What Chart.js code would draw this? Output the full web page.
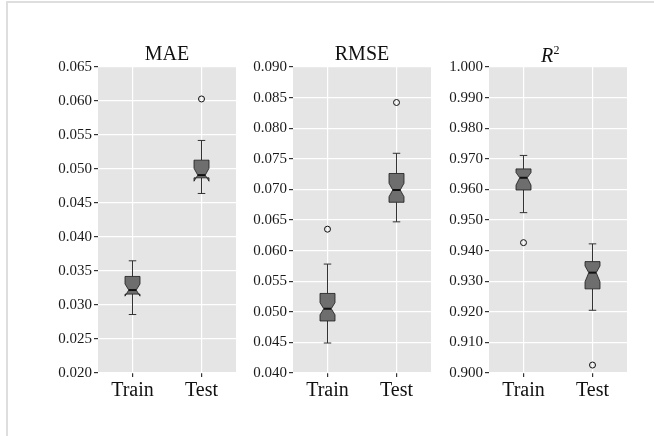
<!DOCTYPE html>
<html><head><meta charset="utf-8">
<script src="https://cdn.jsdelivr.net/npm/chart.js@4"></script>
<style>
html,body{margin:0;padding:0;background:#fff;}
#wrap{position:relative;width:654px;height:436px;overflow:hidden;background:#fff;}
#frame{position:absolute;left:6px;top:1px;width:700px;height:500px;border-top:2px solid #dedede;border-left:2px solid #dedede;}
.pc{position:absolute;top:0;width:202px;height:436px;}
</style></head><body>
<div id="wrap"><div id="frame"></div>
<div class="pc" style="left:38px"><canvas id="c1" width="202" height="436"></canvas></div>
<div class="pc" style="left:233px"><canvas id="c2" width="202" height="436"></canvas></div>
<div class="pc" style="left:429px"><canvas id="c3" width="202" height="436"></canvas></div>
</div>
<script>
const categories = ['Train', 'Test'];

// MAE
const maeLo = [0.0286, 0.0464];
const maeQ1 = [0.0316, 0.0487];
const maeNotchLo = [0.0313, 0.0482];
const maeMed = [0.0322, 0.0491];
const maeNotchHi = [0.0331, 0.0501];
const maeQ3 = [0.0342, 0.0513];
const maeHi = [0.0365, 0.0542];
const maeOutliers = [{x: 'Test', y: 0.0603}];
const maeTicks = {min: 0.020, max: 0.065, step: 0.005};

// RMSE
const rmseLo = [0.0449, 0.0647];
const rmseQ1 = [0.0485, 0.0679];
const rmseNotchLo = [0.0495, 0.0688];
const rmseMed = [0.0505, 0.0699];
const rmseNotchHi = [0.0515, 0.0710];
const rmseQ3 = [0.0530, 0.0726];
const rmseHi = [0.0578, 0.0759];
const rmseOutliers = [{x: 'Train', y: 0.0635}, {x: 'Test', y: 0.0842}];
const rmseTicks = {min: 0.040, max: 0.090, step: 0.005};

// R2
const r2Lo = [0.9524, 0.9205];
const r2Q1 = [0.9598, 0.9275];
const r2NotchLo = [0.9614, 0.9298];
const r2Med = [0.9638, 0.9328];
const r2NotchHi = [0.9655, 0.9350];
const r2Q3 = [0.9667, 0.9364];
const r2Hi = [0.9711, 0.9422];
const r2Outliers = [{x: 'Train', y: 0.9426}, {x: 'Test', y: 0.9026}];
const r2Ticks = {min: 0.900, max: 1.000, step: 0.010};

const r2TitleBase = 'R';
const r2TitleSup = '2';

const SERIF = "'Liberation Serif', 'DejaVu Serif', serif";

const notchBox = {
  id: 'notchBox',
  beforeDraw(chart) {
    const {ctx, chartArea: a} = chart;
    ctx.save();
    ctx.fillStyle = '#e5e5e5';
    ctx.fillRect(a.left, a.top, a.width, a.height);
    ctx.restore();
  },
  beforeDatasetsDraw(chart, args, o) {
    const {ctx} = chart;
    const xs = chart.scales.x, ys = chart.scales.y;
    const Y = v => ys.getPixelForValue(v);
    const h = 7.5, nw = h * 0.5, cap = 3.75;
    ctx.save();
    for (let i = 0; i < categories.length; i++) {
      const x = xs.getPixelForValue(i);
      ctx.strokeStyle = '#333';
      ctx.lineWidth = 1;
      ctx.beginPath();
      ctx.moveTo(x, Y(o.q3[i])); ctx.lineTo(x, Y(o.hi[i]));
      ctx.moveTo(x, Y(o.q1[i])); ctx.lineTo(x, Y(o.lo[i]));
      ctx.moveTo(x - cap, Y(o.hi[i])); ctx.lineTo(x + cap, Y(o.hi[i]));
      ctx.moveTo(x - cap, Y(o.lo[i])); ctx.lineTo(x + cap, Y(o.lo[i]));
      ctx.stroke();
      ctx.beginPath();
      ctx.moveTo(x - h, Y(o.q3[i]));
      ctx.lineTo(x - h, Y(o.nhi[i]));
      ctx.lineTo(x - h + nw, Y(o.med[i]));
      ctx.lineTo(x - h, Y(o.nlo[i]));
      ctx.lineTo(x - h, Y(o.q1[i]));
      ctx.lineTo(x + h, Y(o.q1[i]));
      ctx.lineTo(x + h, Y(o.nlo[i]));
      ctx.lineTo(x + h - nw, Y(o.med[i]));
      ctx.lineTo(x + h, Y(o.nhi[i]));
      ctx.lineTo(x + h, Y(o.q3[i]));
      ctx.closePath();
      ctx.fillStyle = '#6e6e6e';
      ctx.fill();
      ctx.strokeStyle = '#1a1a1a';
      ctx.lineWidth = 0.8;
      ctx.stroke();
      ctx.beginPath();
      ctx.moveTo(x - h + nw, Y(o.med[i]));
      ctx.lineTo(x + h - nw, Y(o.med[i]));
      ctx.strokeStyle = '#111';
      ctx.lineWidth = 2;
      ctx.stroke();
    }
    ctx.restore();
  }
};

const supTitle = {
  id: 'supTitle',
  afterDraw(chart, args, o) {
    if (!o || !o.base) return;
    const {ctx, chartArea: a} = chart;
    ctx.save();
    ctx.fillStyle = '#111';
    ctx.textBaseline = 'alphabetic';
    ctx.font = "italic 20px " + SERIF;
    const wb = ctx.measureText(o.base).width;
    ctx.font = "12px " + SERIF;
    const ws = ctx.measureText(o.sup).width;
    const x0 = (a.left + a.right) / 2 - (wb + ws) / 2 - 8;
    const base = 62;
    ctx.font = "italic 20px " + SERIF;
    ctx.fillText(o.base, x0, base);
    ctx.font = "12px " + SERIF;
    ctx.fillText(o.sup, x0 + wb + 0.5, base - 8);
    ctx.restore();
  }
};

function makeChart(id, title, italic, ticks, stats, outliers, sup) {
  return new Chart(document.getElementById(id), {
    type: 'line',
    data: {
      labels: categories,
      datasets: [{
        data: outliers,
        showLine: false,
        pointRadius: 3,
        pointHoverRadius: 3,
        pointBorderWidth: 1,
        pointBorderColor: '#111',
        pointBackgroundColor: 'rgba(0,0,0,0)'
      }]
    },
    options: {
      responsive: false,
      animation: false,
      layout: {padding: {top: 43, left: 0, right: 0, bottom: 0}},
      plugins: {
        legend: {display: false},
        tooltip: {enabled: false},
        title: {
          display: true, text: title, fullSize: false,
          color: '#111',
          font: {family: SERIF, size: 20, weight: 'normal', style: italic ? 'italic' : 'normal', lineHeight: 1.2},
          padding: {top: 0, bottom: 0}
        },
        notchBox: stats,
        supTitle: sup || {}
      },
      scales: {
        x: {
          type: 'category',
          offset: true,
          border: {display: false},
          grid: {color: '#ffffff', lineWidth: 1.2, offset: false, tickColor: '#333', tickLength: 4},
          ticks: {color: '#111', padding: 2, font: {family: SERIF, size: 20}},
          afterFit(s) { s.height = 63; }
        },
        y: {
          min: ticks.min, max: ticks.max,
          border: {display: false},
          grid: {color: '#ffffff', lineWidth: 1.2, tickColor: '#333', tickLength: 4},
          ticks: {
            stepSize: ticks.step, color: '#1a1a1a', padding: 2,
            font: {family: SERIF, size: 15},
            callback: v => Number(v).toFixed(3)
          },
          afterFit(s) { s.width = 60; }
        }
      }
    },
    plugins: [notchBox, supTitle]
  });
}

makeChart('c1', 'MAE', false, maeTicks,
  {lo: maeLo, q1: maeQ1, nlo: maeNotchLo, med: maeMed, nhi: maeNotchHi, q3: maeQ3, hi: maeHi}, maeOutliers);
makeChart('c2', 'RMSE', false, rmseTicks,
  {lo: rmseLo, q1: rmseQ1, nlo: rmseNotchLo, med: rmseMed, nhi: rmseNotchHi, q3: rmseQ3, hi: rmseHi}, rmseOutliers);
makeChart('c3', ' ', false, r2Ticks,
  {lo: r2Lo, q1: r2Q1, nlo: r2NotchLo, med: r2Med, nhi: r2NotchHi, q3: r2Q3, hi: r2Hi}, r2Outliers,
  {base: r2TitleBase, sup: r2TitleSup});
</script>
</body></html>
